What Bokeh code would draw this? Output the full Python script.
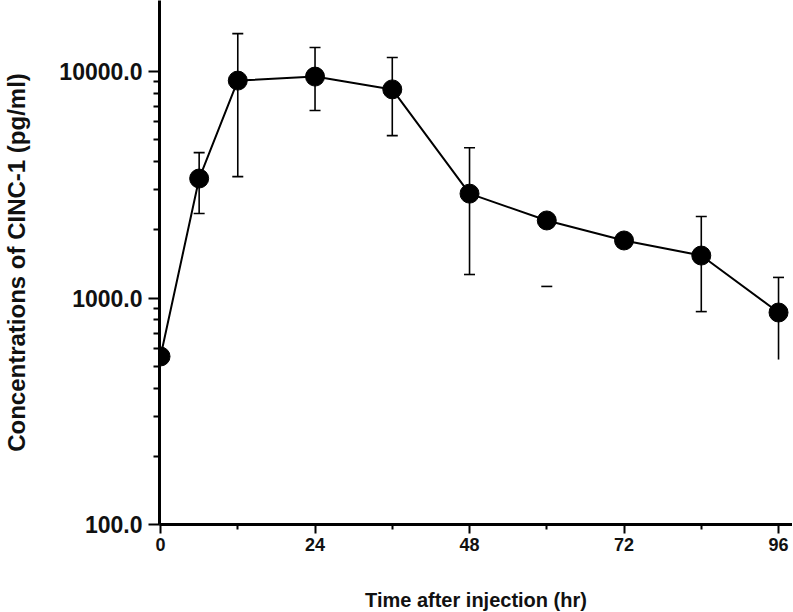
import math
from bokeh.plotting import figure
from bokeh.models import FixedTicker, PrintfTickFormatter, Range1d
from bokeh.embed import file_html
from bokeh.resources import INLINE

nan = float("nan")

# Data
times = [0, 6, 12, 24, 36, 48, 60, 72, 84, 96]
conc = [552, 3370, 9120, 9500, 8340, 2890, 2200, 1795, 1540, 863]
err_hi = [nan, 4385, 14700, 12760, 11540, 4610, nan, nan, 2290, 1233]
err_lo = [nan, 2360, 3435, 6730, 5210, 1270, 1125, nan, 871, 535]
lo_cap = [False, True, True, True, True, True, True, False, True, False]

x_ticks = [0, 24, 48, 72, 96]
x_minor = [12, 36, 60, 84]
y_ticks = [100, 1000, 10000]
y_minor = [m * d for d in (100, 1000) for m in range(2, 10)]

FONT = "Liberation Sans"

p = figure(frame_width=633, frame_height=524, y_axis_type="log",
           x_range=Range1d(-0.16, 98.17), y_range=Range1d(100, 20590),
           output_backend="svg", toolbar_location=None,
           min_border_left=147, min_border_right=0, min_border_top=0,
           min_border_bottom=88)
p.outline_line_color = None
p.grid.visible = False
p.background_fill_color = "white"
p.border_fill_color = "white"

# error bars
seg_x = [t for t, h, l in zip(times, err_hi, err_lo) if not (math.isnan(h) or math.isnan(l))]
seg_hi = [h for h, l in zip(err_hi, err_lo) if not (math.isnan(h) or math.isnan(l))]
seg_lo = [l for h, l in zip(err_hi, err_lo) if not (math.isnan(h) or math.isnan(l))]
p.segment(x0=seg_x, y0=seg_lo, x1=seg_x, y1=seg_hi, line_color="black", line_width=1.6)

cap_hx = [t for t, h in zip(times, err_hi) if not math.isnan(h)]
cap_hy = [h for h in err_hi if not math.isnan(h)]
cap_lx = [t for t, l, c in zip(times, err_lo, lo_cap) if c and not math.isnan(l)]
cap_ly = [l for l, c in zip(err_lo, lo_cap) if c and not math.isnan(l)]
p.scatter(cap_hx, cap_hy, marker="dash", size=11, line_color="black", line_width=1.6)
p.scatter(cap_lx, cap_ly, marker="dash", size=11, line_color="black", line_width=1.6)

# line + markers
p.line(times, conc, line_color="black", line_width=2)
p.scatter(times, conc, marker="circle", size=19, fill_color="black", line_color="black")

# axes
for ax in (p.xaxis[0], p.yaxis[0]):
    ax.axis_line_width = 3
    ax.axis_line_color = "black"
    ax.major_tick_line_width = 2
    ax.minor_tick_line_width = 2
    ax.major_tick_in = 0
    ax.minor_tick_in = 0
    ax.major_label_text_font = FONT
    ax.major_label_text_font_style = "bold"
    ax.major_label_text_color = "#111111"
    ax.axis_label_text_font = FONT
    ax.axis_label_text_font_style = "bold"
    ax.axis_label_text_color = "#111111"

p.xaxis.ticker = FixedTicker(ticks=x_ticks, minor_ticks=x_minor)
p.xaxis.major_tick_out = 9
p.xaxis.minor_tick_out = 5
p.xaxis.major_label_text_font_size = "18px"
p.xaxis.major_label_standoff = 4
p.xaxis.axis_label = "Time after injection (hr)"
p.xaxis.axis_label_text_font_size = "20px"
p.xaxis.axis_label_standoff = 35

p.yaxis.ticker = FixedTicker(ticks=y_ticks, minor_ticks=y_minor)
p.yaxis.formatter = PrintfTickFormatter(format="%.1f")
p.yaxis.major_tick_out = 11
p.yaxis.minor_tick_out = 6
p.yaxis.major_label_text_font_size = "23px"
p.yaxis.major_label_standoff = 6
p.yaxis.axis_label = "Concentrations of CINC-1 (pg/ml)"
p.yaxis.axis_label_text_font_size = "24px"
p.yaxis.axis_label_standoff = 26

open("out.html", "w").write(file_html(p, INLINE))
